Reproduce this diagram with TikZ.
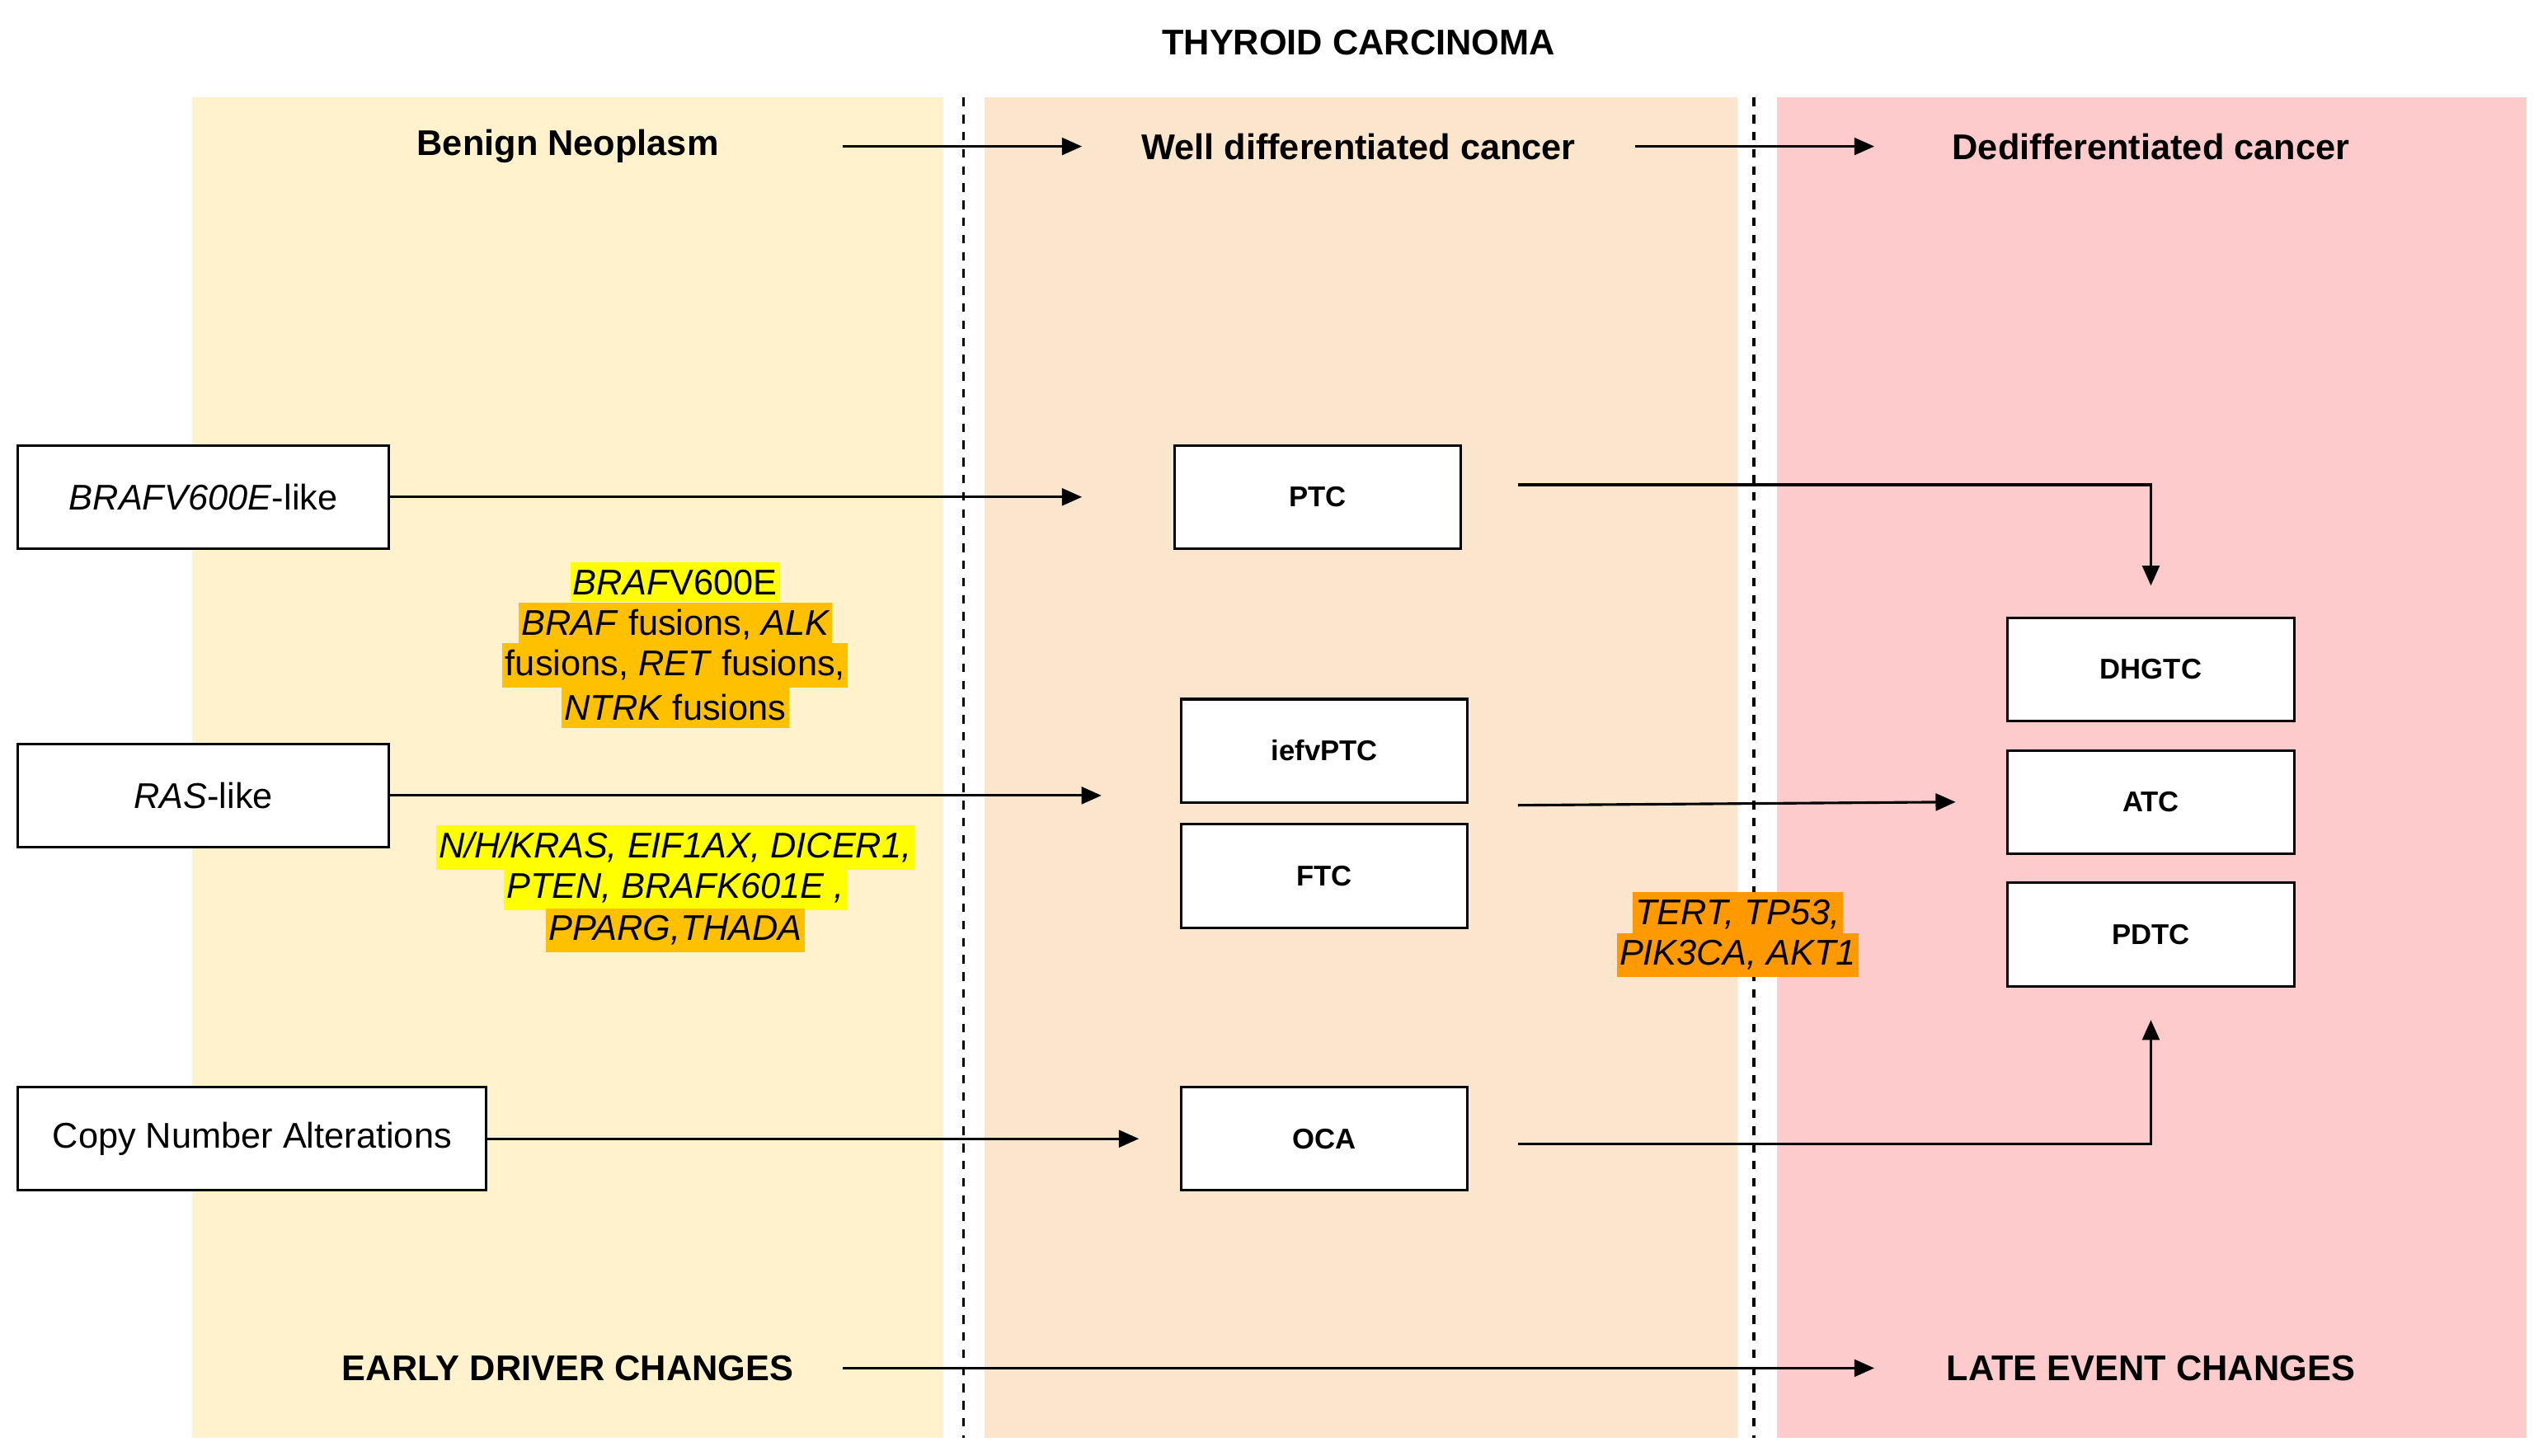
\documentclass[tikz,border=0pt]{standalone}
\usepackage{fontspec}
\setmainfont{Liberation Sans}
\usetikzlibrary{arrows.meta}
\definecolor{benign}{HTML}{FFF2CC}
\definecolor{welldiff}{HTML}{FCE5CD}
\definecolor{dediff}{HTML}{FDCBCB}
\definecolor{hlyellow}{HTML}{FFFF00}
\definecolor{hlorange}{HTML}{FFC000}
\definecolor{hldeep}{HTML}{FF9900}
\tikzset{
  stage/.style={font=\fontsize{12.5}{15}\selectfont\bfseries},
  box/.style={draw, fill=white, line width=0.9pt, minimum height=1.27cm, inner sep=0pt},
  hl/.style={inner xsep=1pt, inner ysep=2.5pt, font=\fontsize{12.5}{15}\selectfont\itshape},
  flow/.style={line width=0.9pt, -{Triangle[length=7pt, width=6pt]}}
}
\begin{document}
\begin{tikzpicture}[x=0.02cm, y=-0.02cm, font=\fontsize{12.5}{15}\selectfont]
            \useasboundingbox (0, 0) rectangle (1563, 895);

            % Bands
            \fill [benign] (118, 60) rectangle (580, 884);
            \fill [welldiff] (605, 60) rectangle (1068, 884);
            \fill [dediff] (1092, 60) rectangle (1553, 884);
            \draw [dashed, line width=0.9pt] (592, 60) -- (592, 884);
            \draw [dashed, line width=0.9pt] (1078, 60) -- (1078, 884);

            % Title
            \node (title) at (835, 26) [stage] {THYROID CARCINOMA};

            % Stages
            \node (benign) at (349, 90) [stage] {Benign Neoplasm};
            \node (well) at (835, 90) [stage] {Well differentiated cancer};
            \node (dediff) at (1322, 90) [stage] {Dedifferentiated cancer};
            \coordinate (s1) at (518, 90);
            \coordinate (s2) at (665, 90);
            \coordinate (s3) at (1005, 90);
            \coordinate (s4) at (1152, 90);
            \draw [flow] (s1) -- (s2);
            \draw [flow] (s3) -- (s4);

            %% Driver boxes
            \node (braflike) at (125, 305.5) [box, minimum width=4.56cm] {\textit{BRAFV600E}-like};
            \node (raslike) at (125, 489) [box, minimum width=4.56cm] {\textit{RAS}-like};
            \node (cna) at (155, 700) [box, minimum width=5.76cm] {Copy Number Alterations};

            %% Well differentiated boxes
            \node (ptc) at (810, 305.5) [box, minimum width=3.52cm, font=\bfseries] {PTC};
            \node (iefv) at (814, 461.5) [box, minimum width=3.52cm, font=\bfseries] {iefvPTC};
            \node (ftc) at (814, 538.5) [box, minimum width=3.52cm, font=\bfseries] {FTC};
            \node (oca) at (814, 700) [box, minimum width=3.52cm, font=\bfseries] {OCA};

            %% Dedifferentiated boxes
            \node (dhgtc) at (1322, 411.5) [box, minimum width=3.52cm, font=\bfseries] {DHGTC};
            \node (atc) at (1322, 493) [box, minimum width=3.52cm, font=\bfseries] {ATC};
            \node (pdtc) at (1322, 574.5) [box, minimum width=3.52cm, font=\bfseries] {PDTC};

            %% Early arrows
            \coordinate (ptcin) at (665, 305.5);
            \coordinate (ftcin) at (677, 489);
            \coordinate (ocain) at (700, 700);
            \draw [flow] (braflike.east) -- (ptcin);
            \draw [flow] (raslike.east) -- (ftcin);
            \draw [flow] (cna.east) -- (ocain);

            %% Late arrows
            \coordinate (ptcout) at (933, 298);
            \coordinate (dhgtcin) at (1322, 360);
            \coordinate (ftcout) at (933, 495);
            \coordinate (atcin) at (1202, 493);
            \coordinate (ocaout) at (933, 703);
            \coordinate (pdtcin) at (1322, 627);
            \draw [flow] (ptcout) -| (dhgtcin);
            \draw [flow] (ftcout) -- (atcin);
            \draw [flow] (ocaout) -| (pdtcin);

            %% BRAF alterations
            \node (braf1) at (415, 358) [hl, fill=hlyellow] {BRAF\textup{V600E}};
            \node (braf2) at (415, 384) [hl, fill=hlorange] {BRAF \textup{fusions,} ALK};
            \node (braf3) at (415, 409) [hl, fill=hlorange] {\textup{fusions,} RET \textup{fusions,}};
            \node (braf4) at (415, 435) [hl, fill=hlorange] {NTRK \textup{fusions}};

            %% RAS alterations
            \node (ras1) at (415, 521) [hl, fill=hlyellow] {N/H/KRAS, EIF1AX, DICER1,};
            \node (ras2) at (415, 546) [hl, fill=hlyellow] {PTEN, BRAFK601E ,};
            \node (ras3) at (415, 572) [hl, fill=hlorange] {PPARG,THADA};

            %% Late alterations
            \node (late1) at (1068, 562) [hl, fill=hldeep] {TERT, TP53,};
            \node (late2) at (1068, 587) [hl, fill=hldeep] {PIK3CA, AKT1};

            % Bottom
            \node (early) at (349, 841) [stage] {EARLY DRIVER CHANGES};
            \node (lateev) at (1322, 841) [stage] {LATE EVENT CHANGES};
            \coordinate (b1) at (518, 841);
            \coordinate (b2) at (1152, 841);
            \draw [flow] (b1) -- (b2);
\end{tikzpicture}
\end{document}
